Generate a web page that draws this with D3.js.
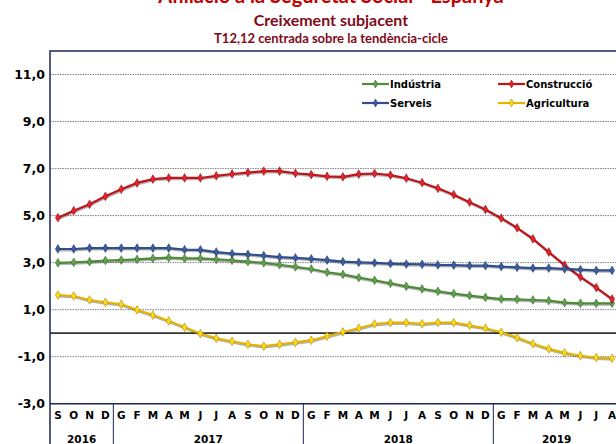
<!DOCTYPE html>
<html>
<head>
<meta charset="utf-8">
<script src="https://cdn.jsdelivr.net/npm/d3@7"></script>
<style>
  body { margin: 0; background: #fff; }
  svg { display: block; }
</style>
</head>
<body>
<svg id="chart"></svg>
<script>
var months = ['S','O','N','D',
  'G','F','M','A','M','J','J','A','S','O','N','D',
  'G','F','M','A','M','J','J','A','S','O','N','D',
  'G','F','M','A','M','J','J','A'];
var years = [
  { year: '2016', count: 4 },
  { year: '2017', count: 12 },
  { year: '2018', count: 12 },
  { year: '2019', count: 8 }
];
var yTicks = [-3, -1, 1, 3, 5, 7, 9, 11];
var gridValues = [-1, 1, 3, 5, 7, 9, 11];

var industria = [2.99, 3.01, 3.04, 3.09, 3.11, 3.14, 3.18, 3.21, 3.18,
  3.18, 3.14, 3.10, 3.04, 2.99, 2.91, 2.82, 2.73, 2.59,
  2.50, 2.36, 2.25, 2.12, 1.99, 1.88, 1.78, 1.68, 1.60,
  1.52, 1.45, 1.44, 1.41, 1.38, 1.30, 1.27, 1.27, 1.27];
var construccio = [4.91, 5.21, 5.48, 5.82, 6.12, 6.39, 6.55, 6.60, 6.60,
  6.60, 6.69, 6.77, 6.83, 6.89, 6.89, 6.80, 6.74, 6.67,
  6.65, 6.76, 6.79, 6.72, 6.59, 6.40, 6.16, 5.89, 5.57,
  5.26, 4.89, 4.48, 4.01, 3.45, 2.89, 2.39, 1.94, 1.45];
var serveis = [3.58, 3.58, 3.62, 3.62, 3.62, 3.62, 3.62, 3.62, 3.55,
  3.54, 3.45, 3.38, 3.35, 3.30, 3.23, 3.20, 3.16, 3.11,
  3.04, 3.01, 2.99, 2.96, 2.94, 2.93, 2.90, 2.89, 2.87,
  2.87, 2.83, 2.80, 2.77, 2.77, 2.73, 2.70, 2.67, 2.67];
var agricultura = [1.62, 1.58, 1.41, 1.31, 1.23, 0.99, 0.77, 0.52, 0.25,
  -0.02, -0.22, -0.35, -0.48, -0.55, -0.48, -0.39, -0.30, -0.13,
  0.05, 0.21, 0.39, 0.45, 0.45, 0.40, 0.45, 0.45, 0.33,
  0.21, 0.04, -0.19, -0.45, -0.67, -0.84, -0.96, -1.04, -1.07];

var series = [
  { name: 'Indústria', values: industria, line: '#4e8b3a', marker: '#5fa34a', edge: '#2f5a22' },
  { name: 'Construcció', values: construccio, line: '#c2121a', marker: '#e3242a', edge: '#7a0a0e' },
  { name: 'Serveis', values: serveis, line: '#2f4e8e', marker: '#3c5e9f', edge: '#1b2f5c' },
  { name: 'Agricultura', values: agricultura, line: '#e2b400', marker: '#ffd91a', edge: '#9a7a00' }
];

var width = 616;
var height = 444;
var plotLeft = 50;
var plotTop = 51;
var plotBottom = 403.7;
var plotRight = 620;

var svg = d3.select('#chart')
  .attr('width', width)
  .attr('height', height);

var xScale = d3.scaleBand()
  .domain(d3.range(months.length))
  .range([plotLeft, plotRight]);

var yScale = d3.scaleLinear()
  .domain([-3, 12])
  .range([plotBottom, plotTop]);

function cx(i) {
  return xScale(i) + xScale.bandwidth() / 2;
}

// titles
var titleX = 331;
svg.append('text')
  .attr('x', titleX).attr('y', 3)
  .attr('text-anchor', 'middle')
  .style('font-family', 'Lato, sans-serif')
  .style('font-weight', 'bold')
  .style('font-size', '20px')
  .style('fill', '#c00000')
  .text('Afiliació a la Seguretat Social - Espanya');
svg.append('text')
  .attr('x', titleX).attr('y', 26)
  .attr('text-anchor', 'middle')
  .style('font-family', 'Lato, sans-serif')
  .style('font-weight', 'bold')
  .style('font-size', '16px')
  .style('fill', '#7f0a1a')
  .text('Creixement  subjacent');
svg.append('text')
  .attr('x', titleX).attr('y', 43)
  .attr('text-anchor', 'middle')
  .style('font-family', 'Lato, sans-serif')
  .style('font-weight', 'bold')
  .style('font-size', '13px')
  .style('fill', '#7f0a1a')
  .text('T12,12 centrada sobre la tendència-cicle');

// grid lines
svg.append('g')
  .selectAll('line')
  .data(gridValues)
  .enter().append('line')
    .attr('x1', plotLeft).attr('x2', plotRight)
    .attr('y1', function(d) { return yScale(d); })
    .attr('y2', function(d) { return yScale(d); })
    .attr('stroke', '#808080')
    .attr('stroke-width', 1)
    .attr('stroke-dasharray', '1.5,1');

// zero line
svg.append('line')
  .attr('x1', plotLeft).attr('x2', plotRight)
  .attr('y1', yScale(0)).attr('y2', yScale(0))
  .attr('stroke', '#333')
  .attr('stroke-width', 1.6);

// y axis labels
var yAxis = d3.axisLeft(yScale)
  .tickValues(yTicks)
  .tickSize(0)
  .tickPadding(5)
  .tickFormat(function(d) { return d3.format('.1f')(d).replace('.', ',').replace('−', '-'); });

var yAxisG = svg.append('g')
  .attr('transform', 'translate(' + plotLeft + ',0)')
  .call(yAxis);
yAxisG.select('.domain').remove();
yAxisG.selectAll('text')
  .style('font-family', 'DejaVu Sans, sans-serif')
  .style('font-weight', 'bold')
  .style('font-size', '12.5px')
  .style('fill', '#000');

// month labels
var xAxis = d3.axisBottom(xScale)
  .tickSize(0)
  .tickPadding(8)
  .tickFormat(function(i) { return months[i]; });

var xAxisG = svg.append('g')
  .attr('transform', 'translate(0,' + plotBottom + ')')
  .call(xAxis);
xAxisG.select('.domain').remove();
xAxisG.selectAll('text')
  .style('font-family', 'DejaVu Sans, sans-serif')
  .style('font-weight', 'bold')
  .style('font-size', '10.5px')
  .style('fill', '#000');

// year labels and separators
var start = 0;
years.forEach(function(y) {
  var x0 = xScale(start);
  var x1 = start + y.count < months.length ? xScale(start + y.count) : plotRight;
  svg.append('text')
    .attr('x', (x0 + x1) / 2)
    .attr('y', 443)
    .attr('text-anchor', 'middle')
    .style('font-family', 'DejaVu Sans, sans-serif')
    .style('font-weight', 'bold')
    .style('font-size', '10.5px')
    .text(y.year);
  if (start > 0) {
    svg.append('line')
      .attr('x1', x0).attr('x2', x0)
      .attr('y1', plotBottom).attr('y2', height)
      .attr('stroke', '#1f2555')
      .attr('stroke-width', 1);
  }
  start += y.count;
});

// frame
svg.append('path')
  .attr('d', 'M' + plotRight + ',' + plotTop + 'H' + plotLeft + 'V' + height)
  .attr('fill', 'none')
  .attr('stroke', '#1f2555')
  .attr('stroke-width', 1.5);
svg.append('line')
  .attr('x1', plotLeft).attr('x2', plotRight)
  .attr('y1', plotBottom).attr('y2', plotBottom)
  .attr('stroke', '#1f2555')
  .attr('stroke-width', 1.5);

// lines
var line = d3.line()
  .x(function(d, i) { return cx(i); })
  .y(function(d) { return yScale(d); });

var marker = d3.symbol().type(d3.symbolDiamond).size(22);

var seriesG = svg.append('g')
  .selectAll('g')
  .data(series)
  .enter().append('g');

seriesG.append('path')
  .attr('d', function(d) { return line(d.values); })
  .attr('transform', 'translate(0.8,1.2)')
  .attr('fill', 'none')
  .attr('stroke', 'rgba(0,0,0,0.3)')
  .attr('stroke-width', 2.4);

seriesG.append('path')
  .attr('d', function(d) { return line(d.values); })
  .attr('fill', 'none')
  .attr('stroke', function(d) { return d.line; })
  .attr('stroke-width', 2.2);

seriesG.selectAll('path.pt')
  .data(function(d) {
    return d.values.map(function(v, i) { return { v: v, i: i, s: d }; });
  })
  .enter().append('path')
    .attr('class', 'pt')
    .attr('d', marker)
    .attr('transform', function(d) { return 'translate(' + cx(d.i) + ',' + yScale(d.v) + ')'; })
    .attr('fill', function(d) { return d.s.marker; })
    .attr('stroke', function(d) { return d.s.edge; })
    .attr('stroke-width', 0.5);

// legend
var legendPos = [
  { x: 362, y: 84 },
  { x: 498, y: 84 },
  { x: 362, y: 103 },
  { x: 498, y: 103 }
];

var legend = svg.append('g')
  .selectAll('g')
  .data(series)
  .enter().append('g')
    .attr('transform', function(d, i) {
      return 'translate(' + legendPos[i].x + ',' + legendPos[i].y + ')';
    });

legend.append('line')
  .attr('x1', 0).attr('x2', 27)
  .attr('stroke', function(d) { return d.line; })
  .attr('stroke-width', 2.2);

legend.append('path')
  .attr('d', d3.symbol().type(d3.symbolDiamond).size(18))
  .attr('transform', 'translate(13.5,0)')
  .attr('fill', function(d) { return d.marker; })
  .attr('stroke', function(d) { return d.edge; })
  .attr('stroke-width', 0.5);

legend.append('text')
  .attr('x', 28)
  .attr('dy', '0.35em')
  .style('font-family', 'DejaVu Sans, sans-serif')
  .style('font-weight', 'bold')
  .style('font-size', '10px')
  .style('fill', '#000')
  .text(function(d) { return d.name; });
</script>
</body>
</html>
